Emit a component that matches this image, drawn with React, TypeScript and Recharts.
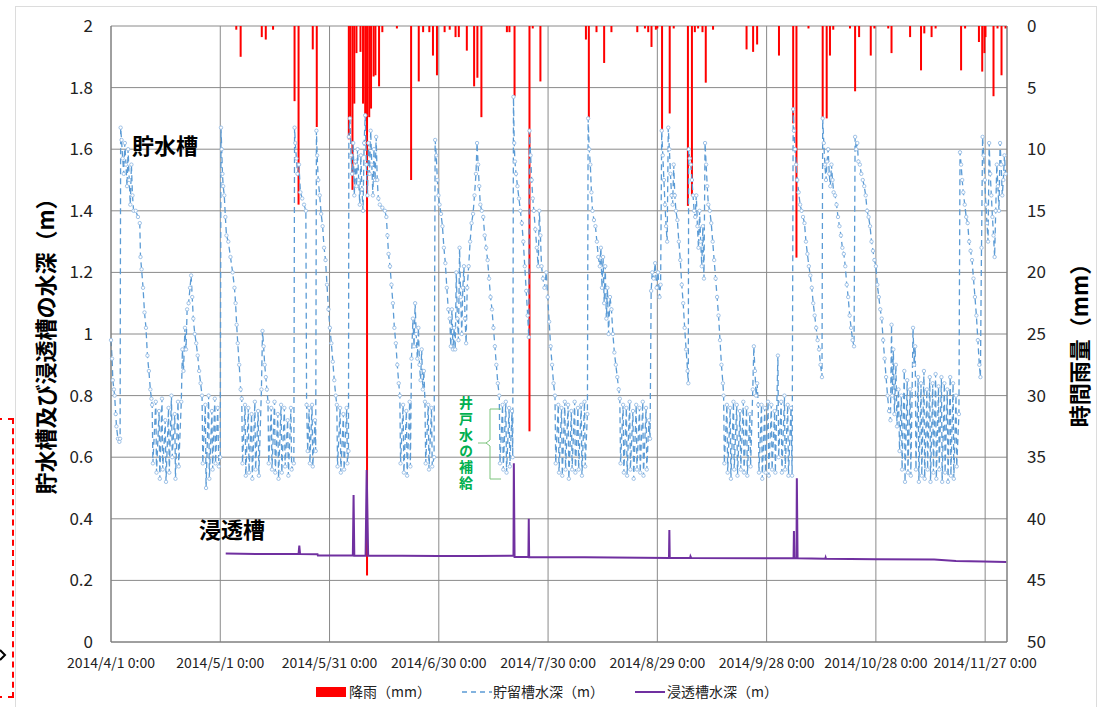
import React from 'react'
import { ComposedChart, Bar, Line, XAxis, YAxis, CartesianGrid } from 'recharts'

const FONT = '"Noto Sans CJK JP", "Noto Sans", sans-serif'

// x axis = days since 2014/4/1 0:00
const dateTicks = [0, 30, 60, 90, 120, 150, 180, 210, 240]
const dateLabels = [
  '2014/4/1 0:00', '2014/5/1 0:00', '2014/5/31 0:00', '2014/6/30 0:00', '2014/7/30 0:00',
  '2014/8/29 0:00', '2014/9/28 0:00', '2014/10/28 0:00', '2014/11/27 0:00',
]
const depthTicks = [0, 0.2, 0.4, 0.6, 0.8, 1, 1.2, 1.4, 1.6, 1.8, 2]
const rainTicks = [0, 5, 10, 15, 20, 25, 30, 35, 40, 45, 50]

// hourly rainfall (mm): [day, mm]
const rainfall: [number, number][] = [
  [34.4, 0.3], [35.6, 2.5], [41.4, 0.9], [42.5, 1.1], [44.5, 0.3], [50.4, 6.1], [51.5, 14.5], [55.4, 1.9], [56.5, 8.2],
  [65.3, 9.2], [65.7, 7.6], [66.3, 13.3], [66.8, 6.3], [67.4, 2.2], [68.5, 2.1], [69.2, 6.3], [69.8, 7.4], [70.3, 44.6],
  [70.9, 7.4], [71.4, 6.7], [72.1, 4.1], [72.6, 4.0], [73.6, 4.9], [74.5, 0.5], [78.5, 0.2], [82.4, 12.5], [84.5, 4.5],
  [85.7, 0.5], [87.4, 0.5], [88.4, 2.4], [89.5, 4.0], [91.6, 0.5], [93.0, 0.3], [94.6, 0.9], [95.5, 0.9], [97.7, 2.0],
  [99.7, 4.9], [100.6, 4.2], [101.7, 7.4], [108.7, 0.5], [109.4, 0.5], [110.8, 5.7], [114.9, 32.9], [115.8, 0.2], [117.9, 4.5],
  [130.4, 1.1], [131.2, 7.5], [133.3, 0.5], [135.4, 3.0], [137.4, 0.5], [144.5, 0.5], [146.6, 0.2], [147.5, 0.5], [148.4, 1.7],
  [149.6, 0.3], [150.0, 0.2], [151.3, 8.6], [153.4, 7.1], [154.5, 0.2], [158.4, 14.6], [159.5, 13.8], [160.3, 0.5], [161.2, 0.2],
  [162.4, 0.5], [163.3, 4.6], [165.3, 0.3], [174.5, 1.9], [176.3, 2.1], [177.4, 1.5], [183.4, 2.4],
  [187.3, 7.9], [188.2, 18.8], [191.5, 0.2], [195.4, 7.4], [196.5, 7.5], [197.4, 2.4], [198.3, 0.3], [202.9, 0.2], [204.3, 5.3],
  [205.4, 0.9], [208.6, 2.4], [209.6, 0.2], [213.4, 0.2], [214.3, 2.2], [219.4, 0.9], [222.4, 3.6], [223.3, 0.6], [225.3, 0.9],
  [226.4, 0.2], [233.4, 3.6], [234.5, 0.2], [238.3, 1.3], [239.2, 3.7], [239.8, 2.2], [240.1, 0.9], [242.3, 5.7], [243.4, 0.2],
  [244.5, 4.0], [245.6, 0.2],
]

// storage tank depth (m): [day, m]
const tankApr: [number, number][] = [
  [0, 0.98], [0.3, 0.92], [0.5, 0.85], [0.8, 0.82], [1.0, 0.8], [1.3, 0.74], [1.5, 0.7], [1.9, 0.66], [2.3, 0.65], [2.5, 0.66],
  [2.65, 1.67], [2.9, 1.63], [3.2, 1.57], [3.5, 1.52], [3.8, 1.62], [4.1, 1.55], [4.4, 1.48], [4.7, 1.6], [5.0, 1.5], [5.3, 1.42],
  [5.6, 1.55], [5.9, 1.45], [6.2, 1.4], [6.8, 1.4], [7.4, 1.38], [7.9, 1.36], [8.1, 1.25], [8.4, 1.21], [8.8, 1.15], [9.2, 1.07],
  [9.6, 1.02], [10.0, 0.93], [10.4, 0.88], [10.8, 0.82], [11.1, 0.79],
  [11.3, 0.77], [11.5, 0.58], [12.3, 0.78], [12.5, 0.55], [13.2, 0.75], [13.4, 0.53], [14.0, 0.79], [14.2, 0.56], [14.9, 0.72],
  [15.1, 0.52], [15.8, 0.76], [16.0, 0.55], [16.6, 0.8], [16.8, 0.6], [17.5, 0.74], [17.7, 0.53], [18.4, 0.78], [18.6, 0.57],
  [19.3, 0.78], [19.6, 0.95], [19.9, 0.88], [20.3, 1.02], [20.6, 0.95], [20.9, 1.08], [21.3, 1.1], [21.7, 1.15], [22.0, 1.19],
  [22.3, 1.12], [22.6, 1.05], [23.0, 1.0], [23.4, 0.97], [23.8, 0.93], [24.2, 0.88], [24.6, 0.84], [25.0, 0.8], [25.2, 0.58],
  [25.9, 0.77], [26.1, 0.5], [26.8, 0.8], [27.0, 0.53], [27.7, 0.75], [27.9, 0.56], [28.5, 0.79], [28.7, 0.58], [29.3, 0.76],
  [29.6, 0.57], [30.0, 0.6],
]
const tankMay: [number, number][] = [
  [30.2, 1.67], [30.4, 1.6], [30.6, 1.52], [30.8, 1.48], [31.1, 1.45], [31.4, 1.38], [31.7, 1.32], [32.2, 1.3], [32.8, 1.25],
  [33.4, 1.2], [33.9, 1.15], [34.2, 1.1], [34.5, 1.03], [34.8, 0.97], [35.2, 0.9], [35.6, 0.82], [35.9, 0.79],
  [36.1, 0.58], [36.8, 0.77], [37.0, 0.54], [37.7, 0.76], [37.9, 0.55], [38.6, 0.74], [38.8, 0.53], [39.5, 0.78], [39.7, 0.56],
  [40.4, 0.75], [40.6, 0.54], [41.3, 0.82], [41.6, 1.01], [41.9, 0.96], [42.2, 0.9], [42.5, 0.86], [42.8, 0.82], [43.1, 0.78],
  [43.3, 0.58], [44.0, 0.76], [44.2, 0.56], [44.9, 0.78], [45.1, 0.55], [45.8, 0.74], [46.0, 0.53], [46.7, 0.77], [46.9, 0.55],
  [47.6, 0.76], [47.8, 0.57], [48.5, 0.72], [48.7, 0.54], [49.4, 0.76], [49.6, 0.56], [50.2, 0.58],
  [50.4, 1.67], [50.6, 1.62], [50.9, 1.57], [51.2, 1.52], [51.6, 1.55], [52.0, 1.46], [52.5, 1.44], [53.0, 1.42], [53.5, 1.4],
  [53.7, 0.77], [54.0, 0.62], [54.4, 0.76], [54.6, 0.58], [55.2, 0.77], [55.4, 0.57], [56.0, 0.72], [56.2, 0.62],
  [56.4, 1.66], [56.6, 1.58], [56.9, 1.5], [57.3, 1.45], [57.7, 1.39], [58.1, 1.35], [58.5, 1.28], [58.9, 1.24], [59.3, 1.16],
  [59.7, 1.08],
]
const tankJun: [number, number][] = [
  [60.1, 1.02], [60.5, 0.97], [60.9, 0.91], [61.3, 0.85], [61.7, 0.8], [62.0, 0.77], [62.2, 0.57], [62.9, 0.76], [63.1, 0.55],
  [63.8, 0.74], [64.0, 0.56], [64.7, 0.76], [64.9, 0.58], [65.2, 0.62],
  [65.3, 1.64], [65.6, 1.7], [65.9, 1.58], [66.2, 1.52], [66.5, 1.62], [66.8, 1.45], [67.1, 1.56], [67.4, 1.48], [67.7, 1.6],
  [68.0, 1.5], [68.3, 1.42], [68.6, 1.58], [68.9, 1.47], [69.2, 1.4], [69.5, 1.62], [69.8, 1.71], [70.1, 1.55], [70.4, 1.45],
  [70.7, 1.62], [71.0, 1.52], [71.3, 1.66], [71.6, 1.55], [71.9, 1.45], [72.2, 1.6], [72.5, 1.5], [72.8, 1.64], [73.1, 1.5],
  [73.4, 1.44], [73.8, 1.42], [74.5, 1.41], [75.2, 1.4], [75.6, 1.38], [75.9, 1.32], [76.2, 1.26], [76.6, 1.22], [77.0, 1.16],
  [77.4, 1.1], [77.8, 1.02], [78.2, 0.97], [78.6, 0.9], [79.0, 0.84], [79.3, 0.8],
  [79.5, 0.58], [80.2, 0.77], [80.4, 0.55], [81.1, 0.75], [81.3, 0.54], [82.0, 0.78], [82.2, 0.57],
  [82.5, 0.92], [82.9, 1.05], [83.2, 0.96], [83.5, 1.1], [83.8, 1.0], [84.1, 0.92], [84.4, 1.02], [84.7, 0.9], [85.0, 0.85],
  [85.3, 0.95], [85.6, 0.82], [85.9, 0.88], [86.2, 0.78], [86.4, 0.58], [87.1, 0.77], [87.3, 0.56], [88.0, 0.76], [88.2, 0.57],
  [88.7, 0.6],
]
const tankJul: [number, number][] = [
  [89.0, 1.63], [89.3, 1.58], [89.6, 1.5], [89.9, 1.45], [90.2, 1.42], [90.6, 1.39], [91.0, 1.35], [91.4, 1.28], [91.8, 1.23],
  [92.2, 1.15], [92.6, 1.08], [93.0, 1.05], [93.3, 0.96], [93.6, 1.08], [93.9, 0.95], [94.2, 1.02], [94.5, 0.95], [94.8, 1.2],
  [95.1, 1.05], [95.4, 0.98], [95.7, 1.28], [96.0, 1.12], [96.3, 1.0], [96.6, 1.15], [96.9, 1.22], [97.2, 1.05], [97.5, 0.97],
  [97.8, 1.15], [98.2, 1.22], [98.6, 1.3], [99.0, 1.36], [99.4, 1.39], [99.8, 1.45], [100.2, 1.52], [100.5, 1.62], [100.8, 1.55],
  [101.1, 1.48], [101.4, 1.42], [101.8, 1.4], [102.2, 1.38], [102.6, 1.32], [103.0, 1.28], [103.4, 1.24], [103.8, 1.18],
  [104.2, 1.12], [104.6, 1.08], [105.0, 1.02], [105.4, 0.96], [105.8, 0.9], [106.2, 0.84], [106.6, 0.8],
  [106.8, 0.58], [107.5, 0.77], [107.7, 0.56], [108.4, 0.78], [108.6, 0.55], [109.3, 0.76], [109.5, 0.57], [110.1, 0.75],
  [110.3, 0.6], [110.5, 1.77], [110.7, 1.62], [110.9, 1.56], [111.2, 1.52], [111.6, 1.48], [112.0, 1.44], [112.4, 1.4],
  [112.8, 1.36], [113.2, 1.3], [113.6, 1.22], [114.0, 1.14], [114.4, 1.06], [114.7, 0.99],
  [114.9, 1.66], [115.2, 1.58], [115.5, 1.5], [115.8, 1.44], [116.1, 1.4], [116.5, 1.34], [116.9, 1.28], [117.3, 1.22],
  [117.6, 1.4], [117.9, 1.32], [118.2, 1.22], [118.6, 1.18], [119.0, 1.15], [119.5, 1.2], [119.9, 1.12],
]
const tankAug: [number, number][] = [
  [120.3, 1.04], [120.7, 0.96], [121.1, 0.9], [121.5, 0.84], [121.9, 0.8],
  [122.1, 0.58], [122.8, 0.77], [123.0, 0.55], [123.7, 0.76], [123.9, 0.54], [124.6, 0.78], [124.8, 0.56], [125.5, 0.77],
  [125.7, 0.53], [126.4, 0.75], [126.6, 0.56], [127.3, 0.78], [127.5, 0.55], [128.2, 0.76], [128.4, 0.56], [129.1, 0.77],
  [129.3, 0.54], [130.0, 0.78], [130.2, 0.57], [130.8, 0.74],
  [131.0, 1.7], [131.3, 1.6], [131.6, 1.55], [131.9, 1.46], [132.2, 1.4], [132.6, 1.37], [133.0, 1.35], [133.4, 1.3],
  [133.8, 1.25], [134.2, 1.22], [134.5, 1.28], [134.8, 1.15], [135.1, 1.25], [135.4, 1.1], [135.7, 1.22], [136.0, 1.05],
  [136.3, 1.15], [136.6, 1.0], [137.0, 1.12], [137.4, 1.08], [137.8, 1.0], [138.2, 0.94], [138.6, 0.9], [139.0, 0.86],
  [139.4, 0.82], [139.7, 0.79],
  [139.9, 0.58], [140.6, 0.77], [140.8, 0.55], [141.5, 0.76], [141.7, 0.54], [142.4, 0.78], [142.6, 0.56], [143.3, 0.75],
  [143.5, 0.53], [144.2, 0.77], [144.4, 0.56], [145.1, 0.76], [145.3, 0.55], [146.0, 0.78], [146.2, 0.54], [146.9, 0.76],
  [147.1, 0.56], [147.7, 0.72], [148.0, 0.66],
  [148.3, 1.14], [148.6, 1.2], [149.0, 1.18], [149.4, 1.23], [149.8, 1.15], [150.2, 1.2], [150.6, 1.12], [150.9, 1.16],
]
const tankSep: [number, number][] = [
  [151.2, 1.66], [151.5, 1.58], [151.8, 1.5], [152.1, 1.42], [152.4, 1.35], [152.7, 1.3], [153.0, 1.67], [153.3, 1.6],
  [153.6, 1.52], [153.9, 1.45], [154.2, 1.42], [154.5, 1.55], [154.8, 1.45], [155.1, 1.4], [155.5, 1.37], [155.9, 1.3],
  [156.3, 1.24], [156.7, 1.16], [157.1, 1.1], [157.5, 1.02], [157.9, 0.95], [158.3, 0.88], [158.5, 0.84],
  [158.6, 1.6], [158.9, 1.57], [159.2, 1.55], [159.5, 1.5], [159.8, 1.45], [160.1, 1.4], [160.4, 1.38], [160.7, 1.45],
  [161.0, 1.35], [161.3, 1.28], [161.6, 1.4], [161.9, 1.3], [162.2, 1.22], [162.5, 1.35], [162.8, 1.18], [163.1, 1.62],
  [163.4, 1.55], [163.7, 1.48], [164.0, 1.42], [164.4, 1.4], [164.8, 1.36], [165.2, 1.3], [165.6, 1.24], [166.0, 1.18],
  [166.4, 1.12], [166.8, 1.06], [167.2, 0.98], [167.6, 0.9], [168.0, 0.84], [168.2, 0.8],
  [168.4, 0.58], [169.1, 0.77], [169.3, 0.55], [170.0, 0.76], [170.2, 0.53], [170.9, 0.78], [171.1, 0.56], [171.8, 0.77],
  [172.0, 0.54], [172.7, 0.75], [172.9, 0.56], [173.6, 0.78], [173.8, 0.55], [174.5, 0.76], [174.7, 0.54], [175.4, 0.74],
  [175.6, 0.57], [176.2, 0.82], [176.5, 0.96], [176.8, 0.88], [177.1, 0.8], [177.4, 0.84], [177.7, 0.77], [177.9, 0.55],
  [178.6, 0.77], [178.8, 0.53], [179.5, 0.76], [179.7, 0.55],
]
const tankOct: [number, number][] = [
  [180.4, 0.78], [180.6, 0.54], [181.3, 0.77], [181.5, 0.56], [182.2, 0.75], [182.4, 0.55], [183.1, 0.93], [183.3, 0.6],
  [184.0, 0.78], [184.2, 0.55], [184.9, 0.8], [185.1, 0.56], [185.8, 0.77], [186.0, 0.54], [186.7, 0.76], [187.0, 0.54],
  [187.3, 1.73], [187.5, 1.66], [187.8, 1.6], [188.1, 1.55], [188.4, 1.5], [188.8, 1.46], [189.2, 1.42], [189.6, 1.4],
  [190.0, 1.38], [190.4, 1.36], [190.8, 1.3], [191.2, 1.26], [191.6, 1.22], [192.0, 1.19], [192.4, 1.15], [192.8, 1.1],
  [193.2, 1.06], [193.6, 1.02], [194.0, 0.98], [194.4, 0.95], [194.8, 0.9], [195.2, 0.86],
  [195.4, 1.7], [195.7, 1.62], [196.0, 1.55], [196.3, 1.5], [196.6, 1.56], [196.9, 1.6], [197.2, 1.52], [197.5, 1.48],
  [197.8, 1.55], [198.1, 1.5], [198.4, 1.46], [198.8, 1.45], [199.2, 1.42], [199.6, 1.38], [200.0, 1.35], [200.4, 1.32],
  [200.8, 1.28], [201.2, 1.26], [201.6, 1.22], [202.0, 1.16], [202.4, 1.12], [202.8, 1.06], [203.2, 1.02], [203.6, 0.98],
  [204.0, 0.96], [204.3, 1.64], [204.6, 1.6], [204.9, 1.62], [205.2, 1.56], [205.6, 1.55], [206.0, 1.52], [206.4, 1.5],
  [206.8, 1.48], [207.2, 1.45], [207.6, 1.4], [208.0, 1.38], [208.4, 1.35], [208.8, 1.3], [209.2, 1.27], [209.6, 1.24],
]
const tankNov: [number, number][] = [
  [210.0, 1.22], [210.4, 1.16], [210.8, 1.12], [211.2, 1.08], [211.6, 1.05], [212.0, 0.98], [212.4, 0.92], [212.8, 0.86],
  [213.2, 0.8], [213.6, 0.75], [214.0, 0.72],
  [214.3, 1.03], [214.5, 0.8], [214.8, 0.95], [215.1, 0.74], [215.5, 0.9], [215.8, 0.7], [216.2, 0.82], [216.5, 0.62],
  [217.0, 0.8], [217.2, 0.56], [217.8, 0.88], [218.0, 0.52], [218.6, 0.85], [218.8, 0.55], [219.4, 0.82], [219.6, 0.54],
  [220.2, 1.02], [220.5, 0.9], [220.8, 0.96], [221.0, 0.56], [221.6, 0.86], [221.8, 0.52], [222.4, 0.84], [222.6, 0.54],
  [223.2, 0.88], [223.4, 0.53], [224.0, 0.82], [224.2, 0.56], [224.8, 0.86], [225.0, 0.52], [225.6, 0.84], [225.8, 0.55],
  [226.4, 0.87], [226.6, 0.53], [227.2, 0.83], [227.4, 0.56], [228.0, 0.86], [228.2, 0.52], [228.8, 0.84], [229.0, 0.55],
  [229.6, 0.82], [229.8, 0.52], [230.4, 0.86], [230.6, 0.54], [231.2, 0.84], [231.4, 0.53], [232.0, 0.8], [232.2, 0.57],
  [232.8, 0.74],
  [233.1, 1.59], [233.4, 1.55], [233.7, 1.5], [234.0, 1.46], [234.4, 1.42], [234.8, 1.38], [235.2, 1.36], [235.6, 1.3],
  [236.0, 1.27], [236.4, 1.24], [236.8, 1.18], [237.2, 1.12], [237.6, 1.06], [238.0, 0.98], [238.4, 0.9], [238.7, 0.86],
  [239.0, 1.28], [239.3, 1.64], [239.6, 1.58], [239.9, 1.5], [240.2, 1.42], [240.5, 1.36], [240.8, 1.3], [241.1, 1.62],
  [241.4, 1.52], [241.7, 1.45], [242.0, 1.38], [242.3, 1.32], [242.6, 1.25], [242.9, 1.4], [243.2, 1.55], [243.5, 1.48],
  [243.8, 1.4], [244.1, 1.62], [244.4, 1.55], [244.7, 1.45], [245.0, 1.5], [245.3, 1.58], [245.6, 1.52],
]

// infiltration tank depth (m): [day, m]
const seepDepth: [number, number][] = [
  [31.5, 0.287], [40.0, 0.286], [51.5, 0.286], [51.7, 0.313], [51.9, 0.286], [56.7, 0.285], [56.8, 0.281], [66.4, 0.281],
  [66.6, 0.477], [66.8, 0.28], [69.9, 0.28], [70.2, 0.558], [70.6, 0.28], [80.0, 0.28], [89.8, 0.279], [100.0, 0.279],
  [110.5, 0.28], [110.6, 0.58], [110.8, 0.276], [114.6, 0.276], [114.7, 0.4], [114.8, 0.275], [130.0, 0.275], [153.2, 0.273],
  [153.3, 0.364], [153.4, 0.273], [159.0, 0.273], [159.1, 0.278], [159.3, 0.273], [187.4, 0.272], [187.5, 0.36], [187.6, 0.272],
  [188.2, 0.272], [188.3, 0.532], [188.5, 0.272], [196.1, 0.27], [196.2, 0.274], [196.3, 0.27], [210.0, 0.269], [226.0, 0.268],
  [232.0, 0.263], [239.5, 0.261], [245.8, 0.26],
]

const rainRows = rainfall.map(([day, rain]) => ({ day, rain }))
const tankRows = [...tankApr, ...tankMay, ...tankJun, ...tankJul, ...tankAug, ...tankSep, ...tankOct, ...tankNov]
  .map(([day, tank]) => ({ day, tank }))
const seepRows = seepDepth.map(([day, seep]) => ({ day, seep }))

const TankDot = (props: any) => {
  const { cx, cy, index } = props
  if (cx == null || cy == null) return <g key={`td-${index}`} />
  return <circle key={`td-${index}`} cx={cx} cy={cy} r={1.7} fill="#fff" stroke="#95bbe3" strokeWidth={0.9} />
}

// the x band is tiny (hourly data), so draw every rain bar 2px wide
const RainBar = (props: any) => {
  const { x, y, width, height } = props
  if (x == null || y == null || !height) return <g />
  const top = Math.min(y, y + height)
  return <rect x={x + width / 2 - 1} y={top} width={2} height={Math.abs(height)} fill="#ff0000" />
}

const leftTitle = () => (
  <text x={44} y={341} transform="rotate(-90 44 341)" textAnchor="middle" dominantBaseline="central"
    fontSize={22} fontWeight={700} fontFamily={FONT} fill="#000">
    貯水槽及び浸透槽の水深（m）
  </text>
)

const rightTitle = () => (
  <text x={1078} y={340} transform="rotate(-90 1078 340)" textAnchor="middle" dominantBaseline="central"
    fontSize={22} fontWeight={700} fontFamily={FONT} fill="#000">
    時間雨量（mm）
  </text>
)

export default function App() {
  return (
    <div style={{ position: 'absolute', left: 0, top: 0, width: 1102, height: 707, background: '#fff', overflow: 'hidden' }}>
      {/* page frame and marker from the source document */}
      <div style={{ position: 'absolute', left: 15, top: 6, width: 1080, height: 720, border: '1px solid #dcdcdc' }} />
      <div style={{ position: 'absolute', left: -4, top: 418, width: 16, height: 276, borderTop: '2px dashed #ff0000', borderRight: '2px dashed #ff0000', borderBottom: '2px dashed #ff0000' }} />

      <div style={{ position: 'absolute', left: 0, top: 0 }}>
        <ComposedChart width={1102} height={707} data={rainRows} margin={{ top: 26, right: 35, bottom: 35, left: 51 }}>
          <CartesianGrid yAxisId="left" stroke="#8a8a8a" strokeWidth={1} />
          <XAxis
            type="number"
            dataKey="day"
            domain={[0, 246]}
            ticks={dateTicks}
            interval={0}
            tickFormatter={(v: number) => dateLabels[dateTicks.indexOf(v)] ?? ''}
            tickLine={false}
            axisLine={{ stroke: '#7a7a7a' }}
            tick={{ fontSize: 14, fill: '#222', fontFamily: FONT }}
            tickMargin={10}
            height={30}
          />
          <YAxis
            yAxisId="left"
            domain={[0, 2]}
            ticks={depthTicks}
            interval={0}
            tickFormatter={(v: number) => String(v)}
            tickLine={false}
            axisLine={{ stroke: '#7a7a7a' }}
            tick={{ fontSize: 17, fill: '#222', fontFamily: FONT }}
            tickMargin={12}
            width={60}
            label={leftTitle}
          />
          <YAxis
            yAxisId="right"
            orientation="right"
            reversed
            domain={[0, 50]}
            ticks={rainTicks}
            interval={0}
            tickLine={false}
            axisLine={{ stroke: '#7a7a7a' }}
            tick={{ fontSize: 17, fill: '#222', fontFamily: FONT }}
            tickMargin={14}
            width={60}
            label={rightTitle}
          />
          <Bar yAxisId="right" dataKey="rain" fill="#ff0000" barSize={2} shape={RainBar} isAnimationActive={false} />
          <Line
            yAxisId="left"
            data={tankRows}
            dataKey="tank"
            type="linear"
            stroke="#5b9bd5"
            strokeWidth={1.3}
            strokeDasharray="6 4"
            dot={TankDot}
            activeDot={false}
            isAnimationActive={false}
          />
          <Line
            yAxisId="left"
            data={seepRows}
            dataKey="seep"
            type="linear"
            stroke="#7030a0"
            strokeWidth={2}
            dot={false}
            activeDot={false}
            isAnimationActive={false}
          />
        </ComposedChart>
      </div>

      {/* annotations */}
      <svg width={1102} height={707} style={{ position: 'absolute', left: 0, top: 0, pointerEvents: 'none' }}>
        <path d="M 0 650 L 5 655 L 0 660" fill="none" stroke="#000" strokeWidth={2} />
        <text x={132} y={154} fontSize={22} fontWeight={700} fontFamily={FONT} fill="#000">貯水槽</text>
        <text x={199} y={538} fontSize={22} fontWeight={700} fontFamily={FONT} fill="#000">浸透槽</text>
        <path d="M 501 409 L 490 409 L 490 440 L 486 443 L 490 446 L 490 479 L 501 479 M 478 443 L 486 443"
          fill="none" stroke="#7cc47c" strokeWidth={1} />

        <rect x={316} y={687} width={30} height={10} fill="#ff0000" />
        <text x={349} y={697} fontSize={14} fontFamily={FONT} fill="#222">降雨（mm）</text>
        <line x1={462} y1={692} x2={492} y2={692} stroke="#5b9bd5" strokeWidth={1.5} strokeDasharray="5 4" />
        <text x={493} y={697} fontSize={14} fontFamily={FONT} fill="#222">貯留槽水深（m）</text>
        <line x1={635} y1={692} x2={665} y2={692} stroke="#7030a0" strokeWidth={2} />
        <text x={667} y={697} fontSize={14} fontFamily={FONT} fill="#222">浸透槽水深（m）</text>
      </svg>
      <div style={{
        position: 'absolute', left: 459, top: 396, writingMode: 'vertical-rl', fontSize: 14, lineHeight: '14px',
        letterSpacing: 2, fontWeight: 700, color: '#00b050', fontFamily: FONT,
      }}>
        井戸水の補給
      </div>
    </div>
  )
}
